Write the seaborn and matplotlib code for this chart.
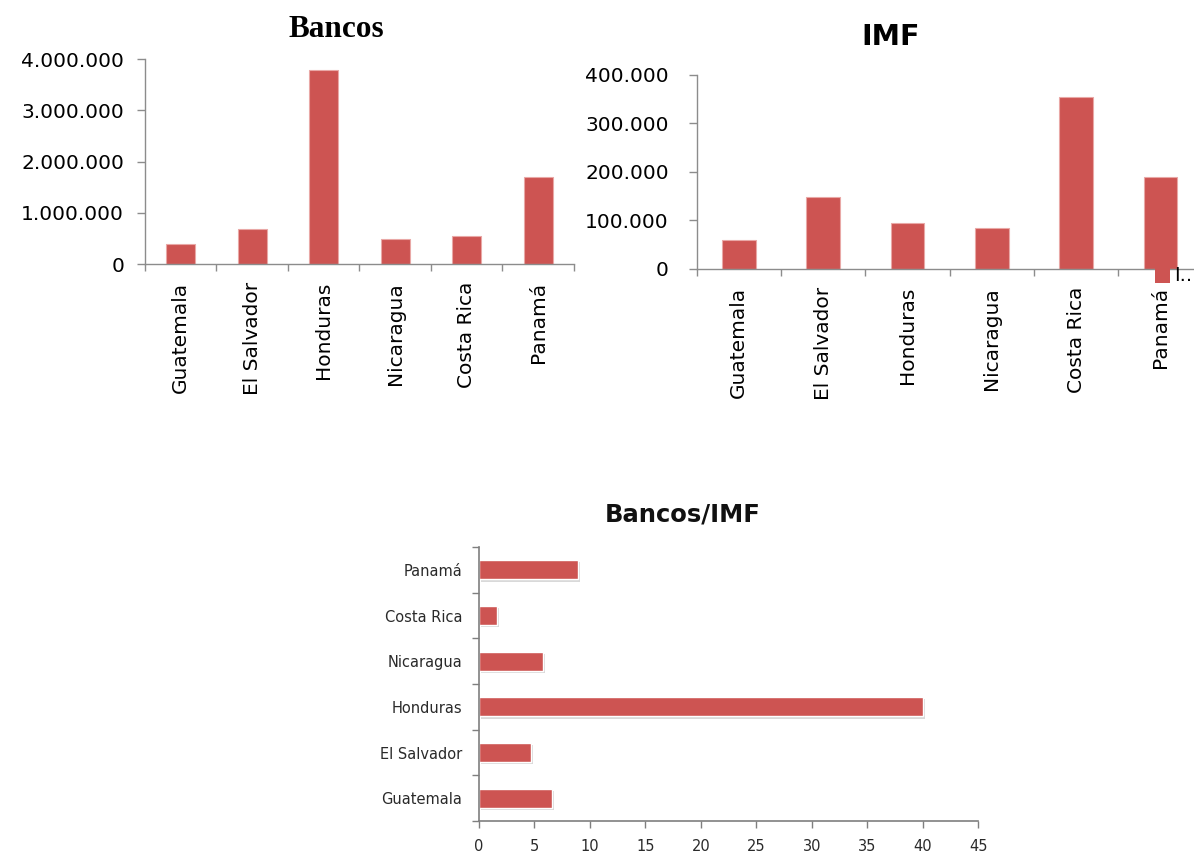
import matplotlib
matplotlib.use("Agg")
import matplotlib.pyplot as plt
import matplotlib.patheffects as pe
from matplotlib.patches import Patch
from matplotlib.ticker import FuncFormatter, FixedLocator
import numpy as np
import pandas as pd
import seaborn as sns

# data
paises = ["Guatemala", "El Salvador", "Honduras", "Nicaragua", "Costa Rica", "Panamá"]
bancos = [390000, 690000, 3800000, 490000, 540000, 1700000]
imf = [59000, 148000, 95000, 85000, 355000, 189000]
ratio = [6.6, 4.7, 40.0, 5.8, 1.6, 8.9]

rojo = "#CD5452"
gris = "#8C8C8C"

sns.set_style("white")
plt.rcParams["font.family"] = ["DejaVu Sans"]
plt.rcParams["text.color"] = "black"

fig = plt.figure(figsize=(11.94, 8.58), dpi=100)


def puntos(v, pos):
    return f"{v:,.0f}".replace(",", ".")


def columnas(ax, valores, ymax, paso, ypad):
    df = pd.DataFrame({"pais": paises, "valor": valores})
    sns.barplot(data=df, x="pais", y="valor", color=rojo, width=0.4,
                saturation=1, ax=ax, edgecolor="#E9A8A6", linewidth=0.8)
    ax.set_xlim(-0.5, 5.5)
    ax.set_ylim(0, ymax)
    ax.set_yticks(np.arange(0, ymax + 1, paso))
    ax.yaxis.set_major_formatter(FuncFormatter(puntos))
    ax.xaxis.set_minor_locator(FixedLocator(np.arange(-0.5, 6, 1)))
    ax.tick_params(axis="x", which="major", length=0, pad=13, labelsize=14.5,
                   labelrotation=90, labelcolor="black")
    ax.tick_params(axis="x", which="minor", length=5, width=1, color=gris,
                   direction="out", bottom=True)
    ax.tick_params(axis="y", length=6, width=1, color=gris, direction="out",
                   left=True, labelsize=14.5, pad=ypad, labelcolor="black")
    for s in ["top", "right"]:
        ax.spines[s].set_visible(False)
    for s in ["left", "bottom"]:
        ax.spines[s].set_color(gris)
        ax.spines[s].set_linewidth(1)
    ax.set_xlabel("")
    ax.set_ylabel("")


# Bancos
ax1 = fig.add_axes([0.1214, 0.6923, 0.3593, 0.2386])
columnas(ax1, bancos, 4000000, 1000000, 9)
fig.text(0.2817, 0.9572, "Bancos", ha="center", va="baseline",
         family="Liberation Serif", fontweight="bold", fontsize=22.5)

# IMF
ax2 = fig.add_axes([0.5835, 0.6865, 0.4238, 0.2265])
columnas(ax2, imf, 400000, 100000, 14)
fig.text(0.7462, 0.9476, "IMF", ha="center", va="baseline",
         fontweight="bold", fontsize=20.5)
fig.legend(handles=[Patch(facecolor=rojo, edgecolor="none")], labels=["I.."],
           loc="upper left", bbox_to_anchor=(1155 / 1194, 1 - 266 / 858),
           frameon=False, handlelength=0.75, handleheight=1.0,
           handletextpad=0.25, fontsize=14, borderpad=0, borderaxespad=0)

# Bancos/IMF
ax3 = fig.add_axes([0.4012, 0.0431, 0.418, 0.3193])
df3 = pd.DataFrame({"pais": paises[::-1], "valor": ratio[::-1]})
sns.barplot(data=df3, y="pais", x="valor", color=rojo, orient="h", width=0.42,
            saturation=1, ax=ax3)
for p in ax3.patches:
    p.set_path_effects([pe.SimplePatchShadow(offset=(1.5, -1.5), shadow_rgbFace="k",
                                             alpha=0.15), pe.Normal()])
ax3.set_xlim(0, 45)
ax3.set_ylim(5.5, -0.5)
ax3.set_xticks(np.arange(0, 46, 5))
ax3.yaxis.set_minor_locator(FixedLocator(np.arange(-0.5, 6, 1)))
ax3.tick_params(axis="y", which="major", length=0, pad=12, labelsize=10.5,
                labelcolor="#2A2A2A")
ax3.tick_params(axis="y", which="minor", length=5, width=1, color="#7F7F7F",
                direction="out", left=True)
ax3.tick_params(axis="x", length=5, width=1, color="#7F7F7F", direction="out",
                bottom=True, labelsize=10.5, pad=8, labelcolor="#2A2A2A")
for s in ["top", "right"]:
    ax3.spines[s].set_visible(False)
for s in ["left", "bottom"]:
    ax3.spines[s].set_color("#7F7F7F")
    ax3.spines[s].set_linewidth(1.2)
ax3.set_xlabel("")
ax3.set_ylabel("")
fig.text(0.572, 0.392, "Bancos/IMF", ha="center", va="baseline",
         fontweight="bold", fontsize=17.5, color="#111111")

fig.savefig("out.png", dpi=100)
